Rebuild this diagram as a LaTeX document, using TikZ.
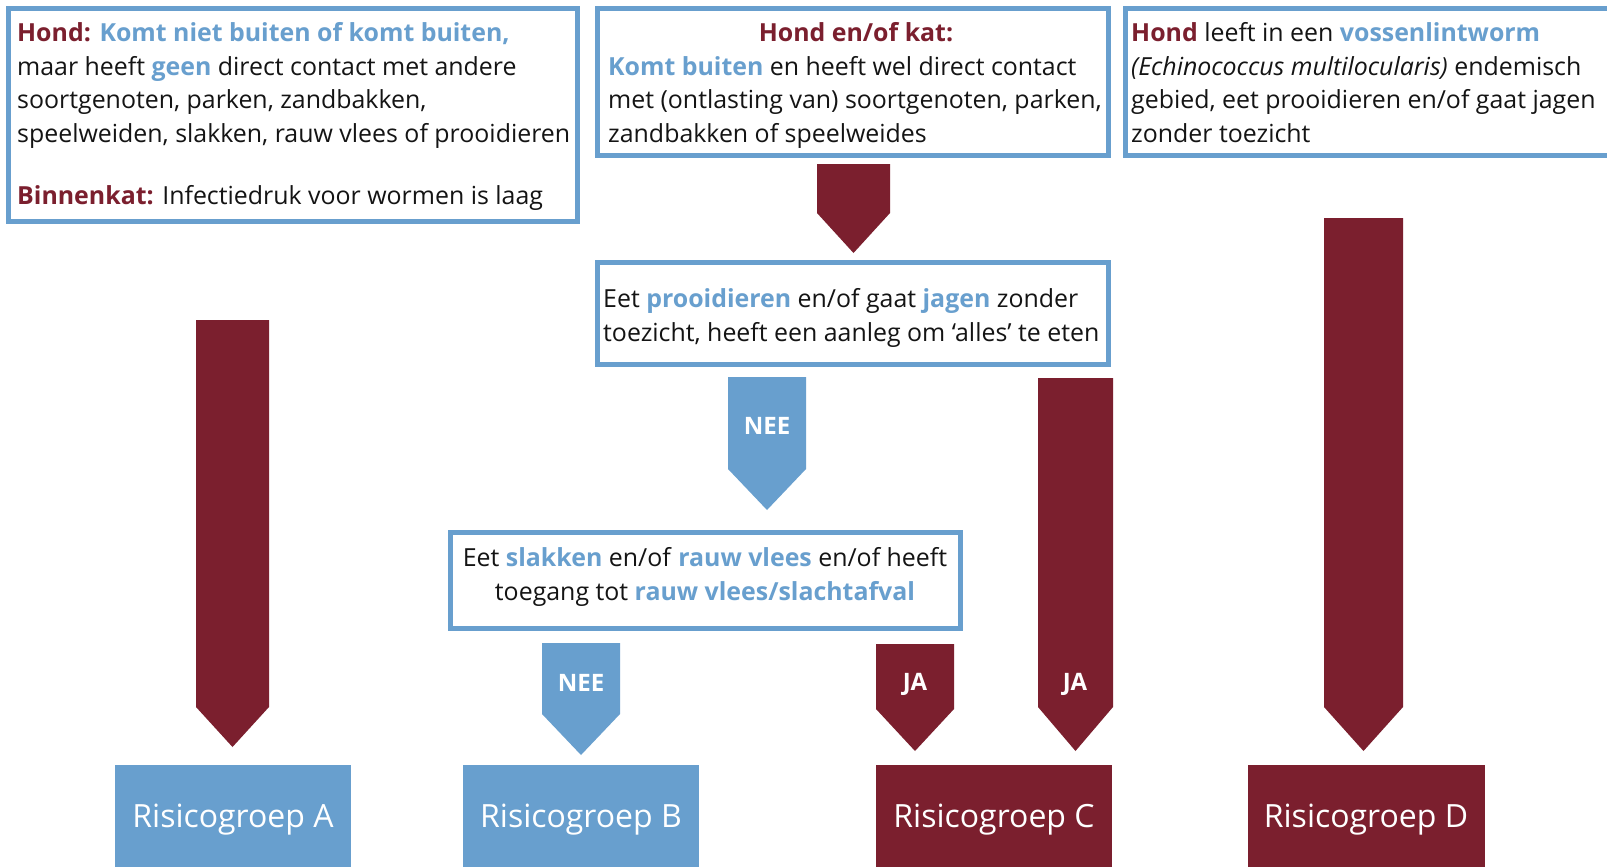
\documentclass[tikz,border=0pt]{standalone}
\usepackage{fontspec}
\setmainfont{Open Sans}
\definecolor{wine}{RGB}{123,31,46}
\definecolor{sky}{RGB}{104,159,206}
\definecolor{ink}{RGB}{20,20,20}
\newcommand\blockarrow[6]{%
  \fill[#1] (#2,#4) -- (#3,#4) -- (#3,#5) -- ({(#2+#3)/2},#6) -- (#2,#5) -- cycle;}
\newcommand\Rd[1]{\textbf{\textcolor{wine}{#1}}}
\newcommand\Bl[1]{\textbf{\textcolor{sky}{#1}}}
\begin{document}
\begin{tikzpicture}[x=1pt,y=-1pt,
  frame/.style={draw=sky,line width=5pt,fill=white},
  txt/.style={anchor=base west,inner sep=0pt,text=ink,font=\fontsize{24.9}{33}\selectfont},
  ctxt/.style={anchor=base,inner sep=0pt,text=ink,font=\fontsize{24.9}{33}\selectfont},
  lbl/.style={inner sep=0pt,text=white,font=\bfseries\fontsize{24}{27}\selectfont},
  group/.style={anchor=base,inner sep=0pt,text=white,font=\fontsize{32}{38}\selectfont}]
\clip (0,0) rectangle (1607,867);
\fill[white] (0,0) rectangle (1607,867);
% boxes
\draw[frame] (8.5,8.5) rectangle (577.5,221.5);
\node[inner sep=0pt] (box1) at (293,115) {};
\draw[frame] (597.5,8.5) rectangle (1108.5,155.5);
\node[inner sep=0pt] (box2) at (853,82) {};
\draw[frame] (1125.5,8.5) rectangle (1640,155.5);
\node[inner sep=0pt] (box3) at (1365,82) {};
\draw[frame] (597.5,262.5) rectangle (1108.5,364.5);
\node[inner sep=0pt] (box4) at (853,313) {};
\draw[frame] (450.5,532.5) rectangle (960.5,628.5);
\node[inner sep=0pt] (box5) at (705,580) {};
% box 1 text
\node[txt] (t11) at (17,42) {\Rd{Hond:} \Bl{Komt niet buiten of komt buiten,}};
\node[txt] (t12) at (17,76) {maar heeft \Bl{geen} direct contact met andere};
\node[txt] (t13) at (17,109) {soortgenoten, parken, zandbakken,};
\node[txt] (t14) at (17,142) {speelweiden, slakken, rauw vlees of prooidieren};
\node[txt] (t15) at (17,204) {\Rd{Binnenkat:} Infectiedruk voor wormen is laag};
% box 2 text
\node[ctxt] (t21) at (856,42) {\Rd{Hond en/of kat:}};
\node[txt] (t22) at (608,76) {\Bl{Komt buiten} en heeft wel direct contact};
\node[txt] (t23) at (608,109) {met (ontlasting van) soortgenoten, parken,};
\node[txt] (t24) at (608,142) {zandbakken of speelweides};
% box 3 text
\node[txt] (t31) at (1131,42) {\Rd{Hond} leeft in een \Bl{vossenlintworm}};
\node[txt] (t32) at (1131,76) {\textit{(Echinococcus multilocularis)} endemisch};
\node[txt] (t33) at (1131,109) {gebied, eet prooidieren en/of gaat jagen};
\node[txt] (t34) at (1131,142) {zonder toezicht};
% box 4 text
\node[txt] (t41) at (603,307) {Eet \Bl{prooidieren} en/of gaat \Bl{jagen} zonder};
\node[txt] (t42) at (603,341) {toezicht, heeft een aanleg om ‘alles’ te eten};
% box 5 text
\node[ctxt] (t51) at (705,566) {Eet \Bl{slakken} en/of \Bl{rauw vlees} en/of heeft};
\node[ctxt] (t52) at (705,600) {toegang tot \Bl{rauw vlees/slachtafval}};
% arrows
\blockarrow{wine}{817}{890}{164}{213}{253}
\blockarrow{sky}{728}{806}{377}{469}{510}
\blockarrow{wine}{1038}{1113}{378}{707}{751}
\blockarrow{wine}{1324}{1403}{218}{707}{751}
\blockarrow{wine}{196}{269}{320}{707}{747}
\blockarrow{sky}{542}{620}{643}{714}{755}
\blockarrow{wine}{876}{954}{644}{709}{751}
\node[lbl] (nee1) at (767,426) {NEE};
\node[lbl] (nee2) at (581,683) {NEE};
\node[lbl] (ja1) at (915,684) {JA};
\node[lbl] (ja2) at (1075,684) {JA};
% risk groups
\fill[sky] (115,765) rectangle (351,870);
\node[group] (ga) at (233,827) {Risicogroep A};
\fill[sky] (463,765) rectangle (699,870);
\node[group] (gb) at (581,827) {Risicogroep B};
\fill[wine] (876,765) rectangle (1112,870);
\node[group] (gc) at (994,827) {Risicogroep C};
\fill[wine] (1248,765) rectangle (1485,870);
\node[group] (gd) at (1366,827) {Risicogroep D};
\end{tikzpicture}
\end{document}
